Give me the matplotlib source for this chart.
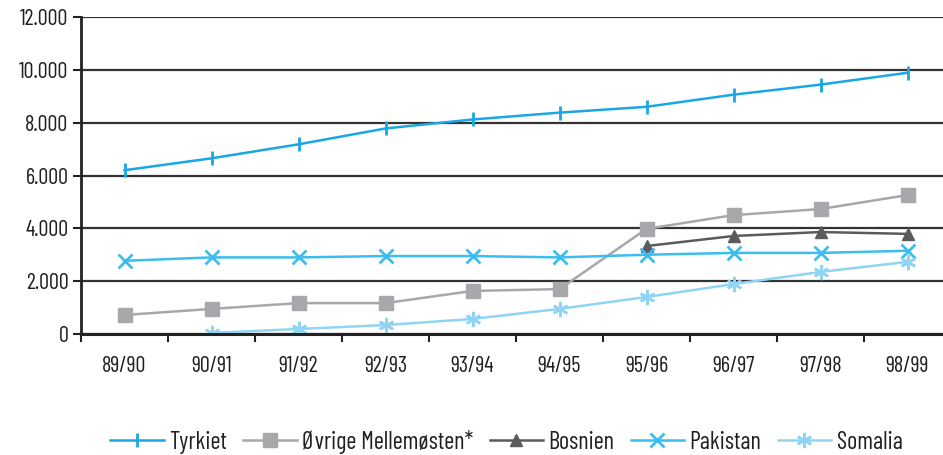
import matplotlib
matplotlib.use("Agg")
import matplotlib.pyplot as plt
import numpy as np

categories = ["89/90", "90/91", "91/92", "92/93", "93/94", "94/95", "95/96", "96/97", "97/98", "98/99"]
tyrkiet = [6200, 6650, 7180, 7780, 8120, 8380, 8600, 9060, 9440, 9890]
ovrige = [720, 950, 1170, 1170, 1630, 1700, 3980, 4500, 4730, 5260]
bosnien = [None, None, None, None, None, None, 3330, 3710, 3860, 3790]
pakistan = [2770, 2900, 2900, 2950, 2950, 2900, 3000, 3070, 3070, 3150]
somalia = [None, 40, 190, 340, 570, 950, 1400, 1890, 2350, 2730]
yticks = [0, 2000, 4000, 6000, 8000, 10000, 12000]
ylabels = ["0", "2.000", "4.000", "6.000", "8.000", "10.000", "12.000"]

plt.rcParams['font.family'] = ['Barlow Condensed', 'DejaVu Sans']

fig = plt.figure(figsize=(9.43, 4.55), dpi=100)
ax = fig.add_axes([81/943, 1-334/455, 870/943, 317/455])

x = np.arange(len(categories))

def arr(v):
    return np.array([np.nan if a is None else a for a in v], dtype=float)

series = [
    ("Tyrkiet", tyrkiet, "#1aa7e3", dict(marker="|", ms=10, mew=2.0)),
    ("Øvrige Mellemøsten*", ovrige, "#a7a8ab", dict(marker="s", ms=10)),
    ("Bosnien", bosnien, "#5a5b5d", dict(marker="^", ms=9)),
    ("Pakistan", pakistan, "#3cbdee", dict(marker="x", ms=10, mew=2)),
    ("Somalia", somalia, "#8fd5f3", dict(marker=(6, 2, 0), ms=11, mew=1.8)),
]
for name, vals, col, mk in series:
    ax.plot(x, arr(vals), color=col, lw=1.8, label=name, mfc=col, mec=col, **mk)

ax.set_xlim(-0.5, len(categories) - 0.5)
ax.set_ylim(0, 12000)
ax.set_yticks(yticks)
ax.set_yticklabels(ylabels)
ax.set_xticks(x)
ax.set_xticklabels(categories)
ax.set_xticks(np.arange(-0.5, len(categories)), minor=True)
ax.tick_params(axis="x", which="major", length=0, pad=16, labelsize=16, labelcolor="#231f20")
ax.tick_params(axis="x", which="minor", length=6, width=1.5, color="#222222")
ax.tick_params(axis="y", length=6, width=1.5, color="#222222", labelsize=16, pad=3, labelcolor="#231f20")

ax.yaxis.grid(True, color="#333333", lw=1.6)
ax.set_axisbelow(True)
for s in ["top", "right"]:
    ax.spines[s].set_visible(False)
ax.spines["left"].set_linewidth(2)
ax.spines["left"].set_color("#222222")
ax.spines["bottom"].set_linewidth(2.2)
ax.spines["bottom"].set_color("#222222")

leg = fig.legend(loc="center", bbox_to_anchor=(0.537, 1 - 442/455), ncol=5, frameon=False,
                 fontsize=17.5, handlelength=2.2, handletextpad=0.22, columnspacing=0.67,
                 borderpad=0, borderaxespad=0)
for t in leg.get_texts():
    t.set_color("#231f20")

fig.savefig("out.png", dpi=100)
